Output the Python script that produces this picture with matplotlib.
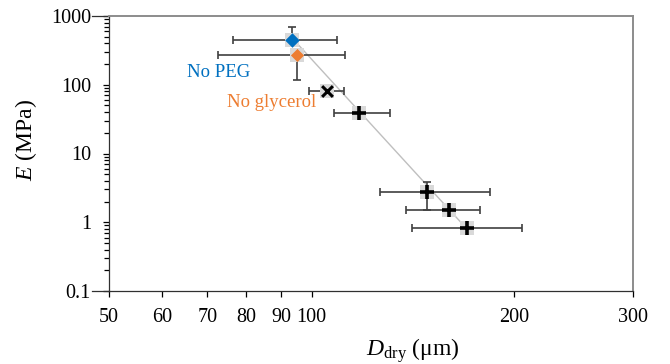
import matplotlib
matplotlib.use('Agg')
import matplotlib.pyplot as plt
from matplotlib.ticker import FixedLocator, NullFormatter, NullLocator, LogLocator

# diameters (um) and moduli (MPa)
peg_x = [93.5]
peg_y = [448]
peg_xerr = [[17.1], [15.5]]
peg_yerr = [[0], [251]]

gly_x = [95.2]
gly_y = [271]
gly_xerr = [[22.6], [16.8]]
gly_yerr = [[154], [0]]

cross_x = [105.4]
cross_y = [81]
cross_xerr = [[6.3], [6.2]]

plus_x = [117.6, 148.5, 160.0, 170.0]
plus_y = [38.8, 2.75, 1.51, 0.825]
plus_xerr = [[9.5, 22.0, 22.0, 29.0], [13.3, 35.5, 18.0, 35.0]]
plus_yerr = [[0, 1.24, 0, 0], [0, 1.10, 0, 0]]

fit_x = [93.5, 170.0]
fit_y = [480, 0.8]

x_ticks = [50, 60, 70, 80, 90, 100, 200, 300]
y_ticks = [0.1, 1, 10, 100, 1000]

SERIF = ['Liberation Serif', 'DejaVu Serif']
plt.rcParams['font.family'] = SERIF
plt.rcParams['mathtext.fontset'] = 'custom'
plt.rcParams['mathtext.rm'] = 'Liberation Serif'
plt.rcParams['mathtext.it'] = 'Liberation Serif:italic'

fig = plt.figure(figsize=(6.7, 3.64), dpi=100)
ax = fig.add_axes([109 / 670, 1 - 291 / 364, 524 / 670, 275 / 364])

ax.plot(fit_x, fit_y, color='#bfbfbf', lw=1.0, zorder=1)

ebar = dict(fmt='none', ecolor='#404040', elinewidth=1.2, capsize=3, capthick=1.2, zorder=2)
ax.errorbar(peg_x, peg_y, xerr=peg_xerr, yerr=peg_yerr, **ebar)
ax.errorbar(gly_x, gly_y, xerr=gly_xerr, yerr=gly_yerr, **ebar)
ax.errorbar(cross_x, cross_y, xerr=cross_xerr, **ebar)
ax.errorbar(plus_x, plus_y, xerr=plus_xerr, yerr=plus_yerr, **ebar)

# light grey squares behind the markers
all_x = peg_x + gly_x + cross_x + plus_x
all_y = peg_y + gly_y + cross_y + plus_y
ax.scatter(all_x, all_y, marker='s', s=110, color='#d9d9d9', lw=0, zorder=3)

ax.scatter(peg_x, peg_y, marker='D', s=55, color='#0070c0', lw=0, zorder=4)
ax.scatter(gly_x, gly_y, marker='D', s=45, color='#ed7d31', lw=0, zorder=4)
ax.scatter(cross_x, cross_y, marker='x', s=60, color='black', lw=2.2, zorder=4)
ax.scatter(plus_x, plus_y, marker='+', s=110, color='black', lw=2.6, zorder=4)

ax.text(0.149, 0.778, 'No PEG', transform=ax.transAxes, color='#0070c0',
        fontsize=13.5, family=SERIF)
ax.text(0.225, 0.669, 'No glycerol', transform=ax.transAxes, color='#ed7d31',
        fontsize=13.5, family=SERIF)

ax.set_xscale('log')
ax.set_yscale('log')
ax.set_xlim(50, 300)
ax.set_ylim(0.1, 1000)

ax.xaxis.set_major_locator(FixedLocator(x_ticks))
ax.xaxis.set_minor_locator(NullLocator())
ax.set_xticklabels([str(t) for t in x_ticks])
ax.yaxis.set_major_locator(FixedLocator(y_ticks))
ax.set_yticklabels(['0.1', '1', '10', '100', '1000'])
ax.yaxis.set_minor_locator(LogLocator(base=10, subs=range(2, 10)))
ax.yaxis.set_minor_formatter(NullFormatter())

ax.tick_params(axis='x', which='major', direction='out', length=4, width=0.9, pad=8, labelsize=14.5)
ax.tick_params(axis='y', which='major', direction='out', length=4.5, width=0.9, pad=8.5, labelsize=14.5)
ax.tick_params(axis='y', which='minor', direction='out', length=3.5, width=0.9)

# the end ticks at 0.1 and 1000 run out to their labels
for yy in [0, 1]:
    ax.plot([-0.033, 0], [yy, yy], transform=ax.transAxes, color='#303030',
            lw=0.9, clip_on=False)

for side in ['left', 'bottom']:
    ax.spines[side].set_color('#303030')
    ax.spines[side].set_linewidth(0.9)
for side in ['top', 'right']:
    ax.spines[side].set_color('#8c8c8c')
    ax.spines[side].set_linewidth(1.4)

ax.set_xlabel(r'$D_{\mathrm{dry}}$ ($\mathrm{\mu}$m)', fontsize=17)
ax.xaxis.set_label_coords(0.58, -0.165)
ax.set_ylabel(r'$E$ (MPa)', fontsize=17)
ax.yaxis.set_label_coords(-0.134, 0.55)

fig.savefig('out.png', dpi=100)
